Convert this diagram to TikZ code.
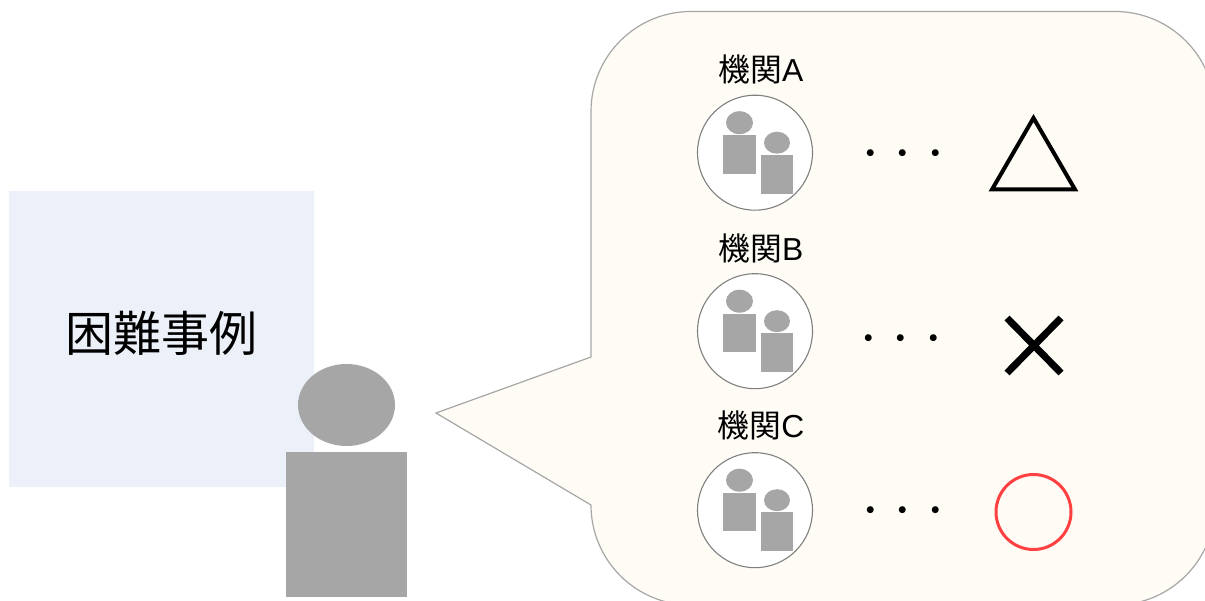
\documentclass[tikz,border=0pt]{standalone}
\usepackage{fontspec}
\setmainfont{Liberation Sans}
\newfontfamily\cjkjp{Noto Sans CJK JP}
\usetikzlibrary{shapes.geometric}
\definecolor{paneblue}{HTML}{ECF0F9}
\definecolor{figgray}{HTML}{A6A6A6}
\definecolor{bubblefill}{HTML}{FFFCF5}
\definecolor{okred}{HTML}{FF4040}
\tikzset{
  x=1pt,y=-1pt,
  figpart/.style={fill=figgray,draw=none,inner sep=0pt,outer sep=0pt},
  headshape/.style={figpart,ellipse},
  bodyshape/.style={figpart,rectangle},
  orgcircle/.style={circle,draw=black!50,fill=white,line width=1.1pt,minimum size=115pt,inner sep=0pt},
  orglabel/.style={inner sep=0pt,font=\fontsize{31.8}{32}\selectfont,text=black},
  dotsnode/.style={inner sep=0pt,font=\cjkjp\fontsize{32.5}{33}\selectfont,text=black},
  titlenode/.style={inner sep=0pt,font=\cjkjp\fontsize{48}{48}\selectfont,text=black},
}
\begin{document}
\begin{tikzpicture}
\useasboundingbox (0,0) rectangle (1205,601);
\clip (0,0) rectangle (1205,601);
\fill[white] (0,0) rectangle (1205,601);
% case panel
\node[rectangle,fill=paneblue,inner sep=0pt,minimum width=305pt,minimum height=296pt] (panel) at (161.5,339) {};
\node[titlenode] (title) at (161,333) {困難事例};
% speaker
\node[headshape,minimum width=97pt,minimum height=82pt] (head) at (346.5,405) {};
\node[bodyshape,minimum width=121pt,minimum height=145pt] (body) at (346.5,524.5) {};
% speech bubble
\draw[draw=figgray,fill=bubblefill,line width=1.2pt]
  (591,111.5) arc[start angle=180,end angle=270,radius=100]
  -- (1115,11.5) arc[start angle=270,end angle=360,radius=100]
  -- (1215,505) arc[start angle=0,end angle=90,radius=100]
  -- (691,605) arc[start angle=90,end angle=180,radius=100]
  -- (436,413) -- (591,357) -- cycle;
% organisations
\foreach \nm/\cy/\lbl/\ly/\dx/\dy in {a/152.7/A/69.5/903/158, b/331.2/B/248/901/342.5, c/510.2/C/425.5/903/515}{
  \node[orglabel] (lab\nm) at (761,\ly) {{\cjkjp 機関}\lbl};
  \node[orgcircle] (org\nm) at (755,\cy) {};
  \node[headshape,minimum width=27pt,minimum height=23pt] (heada\nm) at (739.5,\cy-30) {};
  \node[bodyshape,minimum width=33pt,minimum height=38.5pt] (bodya\nm) at (739.5,\cy+2) {};
  \node[headshape,minimum width=26pt,minimum height=22pt] (headb\nm) at (777,\cy-10) {};
  \node[bodyshape,minimum width=32pt,minimum height=39pt] (bodyb\nm) at (777,\cy+21.5) {};
  \node[dotsnode] (dots\nm) at (\dx,\dy) {・・・};
}
% marks
\draw[black,line width=4pt,miter limit=10] (1033.5,118) -- (1075,189.5) -- (992,189.5) -- cycle;
\draw[black,line width=7pt] (1007,318) -- (1061,373) (1061,318) -- (1007,373);
\node[circle,draw=okred,line width=3pt,minimum size=75pt,inner sep=0pt] (okmark) at (1033.5,512) {};
\end{tikzpicture}
\end{document}
